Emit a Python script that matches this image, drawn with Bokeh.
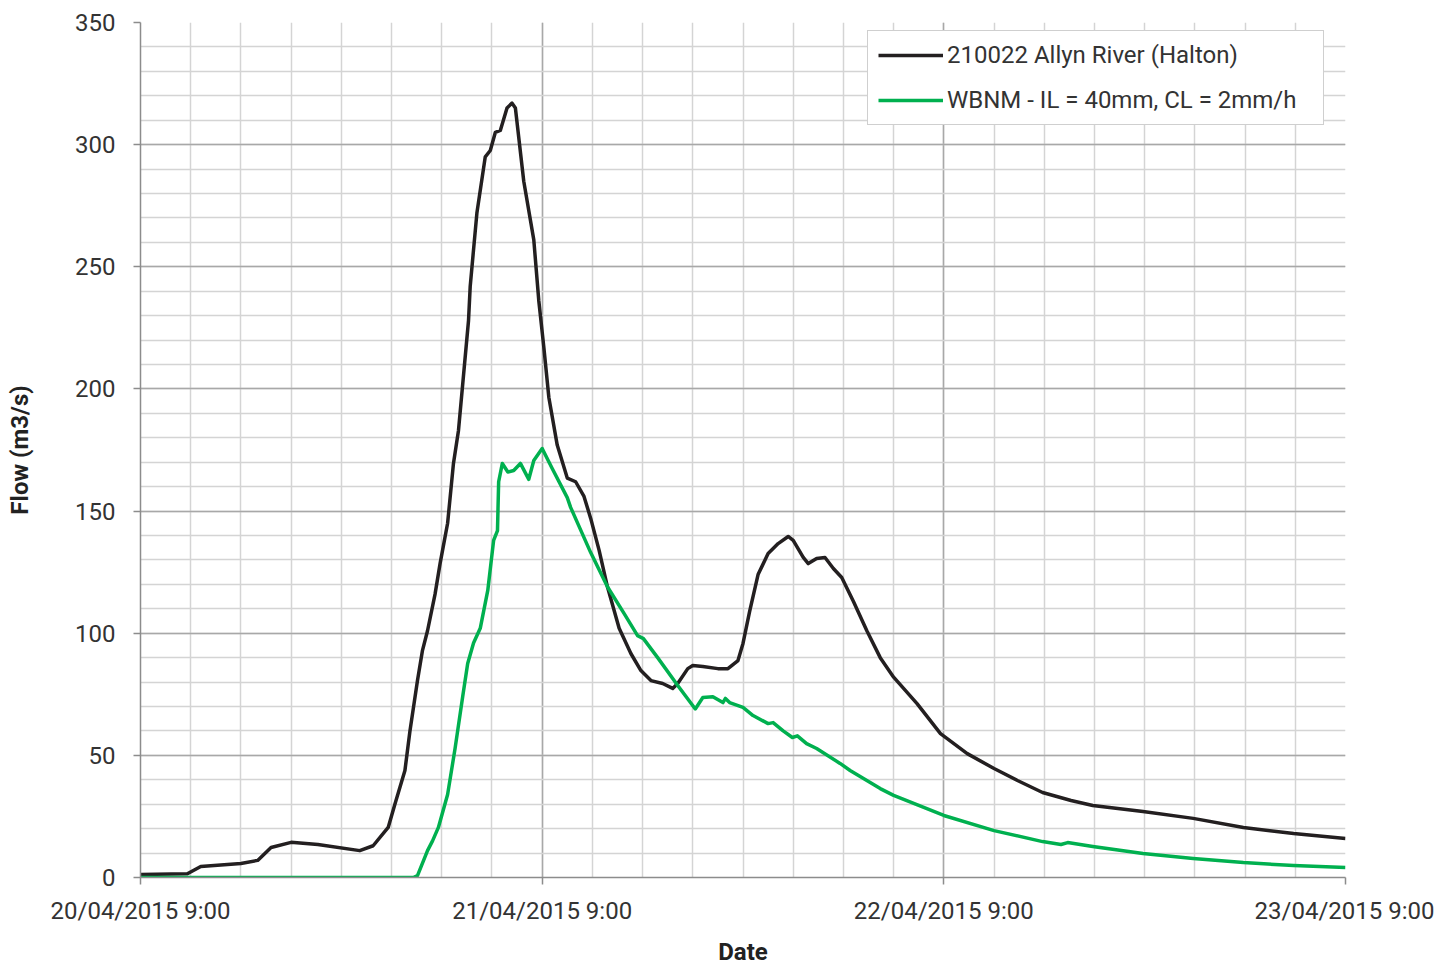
from bokeh.plotting import figure
from bokeh.models import FixedTicker, Legend, LegendItem
from bokeh.embed import file_html
from bokeh.resources import INLINE

# ---- data (hours after 20/04/2015 9:00, flow in m3/s) ----
hours_observed = [0, 2.8, 3.6, 6.0, 7.0, 7.8, 9.0, 10.6, 13.1, 13.9, 14.8, 15.2, 15.8, 16.1,
                  16.55, 16.85, 17.15, 17.6, 17.9, 18.35, 18.7, 19.0, 19.6, 19.7, 20.1, 20.6,
                  20.9, 21.2, 21.5, 21.9, 22.2, 22.4, 22.9, 23.5, 23.8, 24.1, 24.4, 24.9,
                  25.5, 26.0, 26.5, 26.9, 27.4, 27.9, 28.6, 29.3, 29.9, 30.5, 31.2, 31.8,
                  32.1, 32.7, 33.0, 33.6, 34.5, 35.1, 35.7, 36.0, 36.4, 36.9, 37.5, 38.1,
                  38.7, 39.0, 39.6, 39.9, 40.4, 40.9, 41.4, 41.9, 42.6, 43.4, 44.2, 45.0,
                  46.4, 47.8, 49.4, 51.0, 52.4, 53.9, 55.6, 56.9, 59.9, 62.9, 65.9, 68.9, 72.0]
flow_observed = [1.2, 1.5, 4.5, 5.7, 7.0, 12.3, 14.4, 13.5, 11.0, 13.0, 20.5, 30.0, 43.8, 60.0,
                 80.6, 93.0, 101.0, 116.0, 128.5, 145.0, 169.5, 183.0, 228.0, 242.0, 272.0, 295.0,
                 297.6, 305.0, 305.8, 315.0, 317.0, 315.0, 285.0, 261.0, 236.0, 217.0, 196.5, 177.0,
                 163.5, 162.0, 156.0, 147.0, 134.0, 119.0, 102.0, 91.7, 84.7, 80.6, 79.4, 77.4,
                 79.4, 85.5, 86.8, 86.4, 85.5, 85.5, 88.8, 95.8, 109.0, 124.0, 132.6, 136.7,
                 139.6, 138.0, 131.0, 128.5, 130.6, 131.0, 126.5, 122.8, 113.0, 101.0, 90.0, 82.0,
                 71.2, 58.9, 50.7, 44.6, 39.7, 34.8, 31.5, 29.5, 27.0, 24.2, 20.5, 18.0, 16.0]

hours_model = [0, 16.3, 16.55, 17.15, 17.45, 17.8, 18.35, 18.8, 19.25, 19.55, 19.9, 20.3, 20.75,
               21.1, 21.33, 21.4, 21.62, 21.95, 22.3, 22.7, 23.2, 23.5, 24.0, 24.6, 25.5, 25.7,
               26.9, 27.9, 28.9, 29.7, 30.05, 30.9, 32.1, 33.15, 33.6, 34.2, 34.8, 34.95, 35.2,
               36.0, 36.6, 37.5, 37.8, 38.4, 38.95, 39.25, 39.8, 40.4, 41.8, 42.4, 44.2, 45.0,
               48.0, 51.0, 53.9, 55.0, 55.4, 56.9, 59.9, 62.9, 65.9, 68.9, 72.0]
flow_model = [0.0, 0.0, 0.8, 11.0, 15.0, 20.5, 34.0, 53.0, 74.0, 87.6, 96.0, 102.0, 117.5,
              138.0, 142.0, 162.0, 169.5, 166.0, 166.6, 169.5, 163.0, 170.7, 175.6, 167.4, 155.5, 151.5,
              133.0, 119.0, 108.0, 99.0, 97.8, 90.0, 78.6, 69.0, 73.7, 74.0, 71.6, 73.3, 71.6,
              69.6, 66.3, 63.0, 63.4, 60.0, 57.3, 58.0, 54.8, 52.8, 46.7, 43.8, 36.4, 33.6,
              25.4, 19.2, 14.7, 13.5, 14.3, 12.7, 9.8, 7.8, 6.1, 4.9, 4.1]

x_ticks = [0, 24, 48, 72]
x_tick_labels = ["20/04/2015 9:00", "21/04/2015 9:00", "22/04/2015 9:00", "23/04/2015 9:00"]
x_minor = list(range(0, 73, 3))
y_ticks = list(range(0, 351, 50))
y_minor = list(range(0, 351, 10))

series_names = ["210022 Allyn River (Halton)", "WBNM - IL = 40mm, CL = 2mm/h"]
series_colors = ["#231f20", "#00b04f"]

FONT = "Roboto"
TEXT = "#333333"
FS = "24px"

p = figure(frame_width=1205, frame_height=855, output_backend="svg", toolbar_location=None,
           x_range=(0, 72), y_range=(0, 350),
           min_border_left=140, min_border_right=89, min_border_top=22, min_border_bottom=86)
p.outline_line_color = None

p.xaxis.ticker = FixedTicker(ticks=x_ticks, minor_ticks=x_minor)
p.yaxis.ticker = FixedTicker(ticks=y_ticks, minor_ticks=y_minor)
p.xaxis.major_label_overrides = {t: lab for t, lab in zip(x_ticks, x_tick_labels)}

for ax in (p.xaxis, p.yaxis):
    ax.axis_line_color = "#8c8c8c"
    ax.axis_line_width = 1.5
    ax.major_tick_line_color = "#8c8c8c"
    ax.major_tick_line_width = 1.5
    ax.major_tick_out = 7
    ax.major_tick_in = 0
    ax.minor_tick_line_color = None
    ax.major_label_text_font = FONT
    ax.major_label_text_font_size = FS
    ax.major_label_text_color = TEXT
    ax.axis_label_text_font = FONT
    ax.axis_label_text_font_size = FS
    ax.axis_label_text_font_style = "bold"
    ax.axis_label_text_color = "#222222"

p.xaxis.axis_label = "Date"
p.yaxis.axis_label = "Flow (m3/s)"
p.xaxis.major_label_standoff = 12
p.xaxis.axis_label_standoff = 10
p.yaxis.major_label_standoff = 18
p.yaxis.axis_label_standoff = 38

for g in (p.xgrid, p.ygrid):
    g.grid_line_color = "#a8a8a8"
    g.grid_line_width = 1.5
    g.minor_grid_line_color = "#d4d4d4"
    g.minor_grid_line_width = 1.5

r1 = p.line(hours_observed, flow_observed, line_color=series_colors[0], line_width=3.5,
            line_join="round")
r2 = p.line(hours_model, flow_model, line_color=series_colors[1], line_width=3.5,
            line_join="round")

legend = Legend(items=[LegendItem(label=series_names[0], renderers=[r1]),
                       LegendItem(label=series_names[1], renderers=[r2])],
                location=(727, 752), orientation="vertical")
legend.label_text_font = FONT
legend.label_text_font_size = FS
legend.label_text_color = TEXT
legend.glyph_width = 65
legend.glyph_height = 24
legend.label_height = 24
legend.label_width = 366
legend.label_standoff = 4
legend.spacing = 17
legend.padding = 10
legend.margin = 0
legend.border_line_color = "#a0a0a0"
legend.border_line_width = 1.5
legend.background_fill_color = "white"
legend.background_fill_alpha = 1.0
p.add_layout(legend, "center")

open("out.html", "w").write(file_html(p, INLINE))
